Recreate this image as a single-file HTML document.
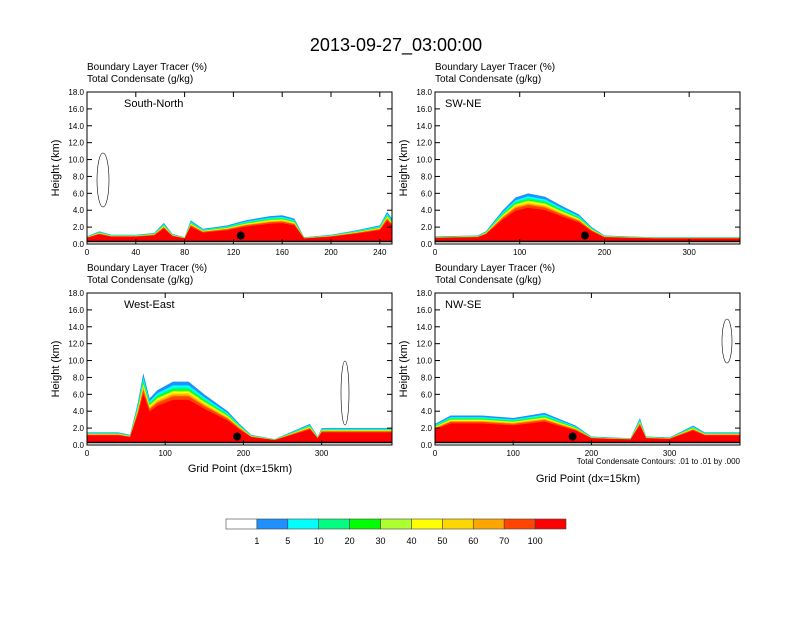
<!DOCTYPE html>
<html><head><meta charset="utf-8"><style>
body{margin:0;background:#fff;font-family:"Liberation Sans",sans-serif}
svg text{font-family:"Liberation Sans",sans-serif}
</style></head><body>
<svg id="c" width="792" height="612" xmlns="http://www.w3.org/2000/svg">
<text x="396" y="51" font-size="18" text-anchor="middle">2013-09-27_03:00:00</text>
</svg>
<script>
const levelLabels=["1","5","10","20","30","40","50","60","70","100"];
const levelColors=["#ffffff","#1e90ff","#00ffff","#00ff80","#00ff00","#adff2f","#ffff00","#ffd700","#ffa500","#ff4500","#ff0000"];
const p1X=[0,10,20,40,55,63,70,80,85,95,105,115,130,150,160,170,178,200,220,240,246,250];
const p1H=[0.9,1.5,1.1,1.1,1.3,2.5,1.2,0.8,2.8,1.8,2.0,2.2,2.8,3.3,3.4,3.0,0.8,1.1,1.6,2.2,3.8,3.0];
const p2X=[0,50,60,80,95,110,130,150,170,185,200,260,360];
const p2H=[0.9,1.0,1.5,4.0,5.5,6.0,5.6,4.5,3.5,2.0,1.0,0.8,0.8];
const p3X=[0,40,55,65,72,80,90,110,130,150,180,195,210,240,285,295,300,390];
const p3H=[1.5,1.5,1.2,5.0,8.5,5.5,6.5,7.5,7.5,6.0,4.0,2.5,1.2,0.7,2.5,1.0,2.0,2.0];
const p4X=[0,20,60,100,140,180,200,250,262,270,300,330,345,390];
const p4H=[2.5,3.5,3.5,3.2,3.8,2.3,1.0,0.8,3.2,1.0,0.9,2.3,1.5,1.5];
const panelNames=["South-North","SW-NE","West-East","NW-SE"];
const panelMax=[250,360,390,390];
const panelTicks=[[0,40,80,120,160,200,240],[0,100,200,300],[0,100,200,300],[0,100,200,300]];
const dotX=[126,177,192,176];
const yTicks=[0,2,4,6,8,10,12,14,16,18];
const svg=document.getElementById('c');const NS="http://www.w3.org/2000/svg";
function el(t,a,p){const e=document.createElementNS(NS,t);for(const k in a)e.setAttribute(k,a[k]);(p||svg).appendChild(e);return e;}
const boxes=[[87,92],[435,92],[87,293],[435,293]];const W=305,H=152;
const data=[[p1X,p1H],[p2X,p2H],[p3X,p3H],[p4X,p4H]];
const fr=[1,0.94,0.9,0.87,0.85,0.83,0.81,0.79,0.76,0.7];
boxes.forEach((b,i)=>{
 const g=el('g',{});
 
 
 const sx=v=>b[0]+v/panelMax[i]*W, sy=v=>b[1]+H-v/18*H;
 const [xs,hs]=data[i];const ground=0.3;
 for(let l=0;l<fr.length;l++){
  let pts=xs.map((x,j)=>sx(x)+','+sy(ground+(hs[j]-ground)*fr[l]));
  pts.push(sx(xs[xs.length-1])+','+sy(0));pts.push(sx(0)+','+sy(0));
  const p=el('polygon',{points:pts.join(' '),fill:levelColors[l+1]},g);
  
  
 }
 el('rect',{x:b[0],y:sy(ground),width:W,height:sy(0)-sy(ground),fill:'#fff'},g);
 el('line',{x1:b[0],x2:b[0]+W,y1:sy(ground),y2:sy(ground),stroke:'#000','stroke-width':1.5},g);
 const d=el('circle',{cx:sx(dotX[i]),cy:sy(1.0),r:4,fill:'#000'},g);
 
 el('rect',{x:b[0],y:b[1],width:W,height:H,fill:'none',stroke:'#000','stroke-width':1},g);
 yTicks.forEach(v=>{el('line',{x1:b[0],x2:b[0]+5,y1:sy(v),y2:sy(v),stroke:'#000'},g);el('line',{x1:b[0]+W,x2:b[0]+W-5,y1:sy(v),y2:sy(v),stroke:'#000'},g);
  const t=el('text',{x:b[0]-3,y:sy(v)+3,'font-size':8,'text-anchor':'end'},g);t.textContent=v.toFixed(1);});
 panelTicks[i].forEach(v=>{el('line',{x1:sx(v),x2:sx(v),y1:b[1]+H,y2:b[1]+H-5,stroke:'#000'},g);el('line',{x1:sx(v),x2:sx(v),y1:b[1],y2:b[1]+5,stroke:'#000'},g);
  const t=el('text',{x:sx(v),y:b[1]+H+11,'font-size':8,'text-anchor':'middle'},g);t.textContent=v;});
 let t=el('text',{x:b[0]+(i%2?10:37),y:b[1]+15,'font-size':11},g);t.textContent=panelNames[i];
 t=el('text',{x:b[0],y:b[1]-22,'font-size':10},g);t.textContent='Boundary Layer Tracer   (%)';
 t=el('text',{x:b[0],y:b[1]-10,'font-size':10},g);t.textContent='Total Condensate   (g/kg)';
 t=el('text',{x:0,y:0,'font-size':11,'text-anchor':'middle',transform:`translate(${b[0]-28},${b[1]+H/2}) rotate(-90)`},g);t.textContent='Height (km)';
});
el('ellipse',{cx:103,cy:180,rx:6,ry:27,fill:'none',stroke:'#000','stroke-width':0.6});
el('ellipse',{cx:345,cy:393,rx:4,ry:32,fill:'none',stroke:'#000','stroke-width':0.6});
el('ellipse',{cx:727,cy:341,rx:5,ry:22,fill:'none',stroke:'#000','stroke-width':0.6});
let t=el('text',{x:240,y:472,'font-size':11,'text-anchor':'middle'});t.textContent='Grid Point (dx=15km)';

t=el('text',{x:588,y:482,'font-size':11,'text-anchor':'middle'});t.textContent='Grid Point (dx=15km)';

t=el('text',{x:740,y:464,'font-size':8,'text-anchor':'end'});t.textContent='Total Condensate Contours: .01 to .01 by .000';

const cb=el('g',{});
const cw=340/levelColors.length;
levelColors.forEach((c,k)=>{el('rect',{x:226+k*cw,y:519,width:cw,height:10,fill:c,stroke:'#444','stroke-width':0.6},cb);});
levelLabels.forEach((l,k)=>{const tt=el('text',{x:226+(k+1)*cw,y:544,'font-size':9,'text-anchor':'middle'},cb);tt.textContent=l;});
</script>
</body></html>
